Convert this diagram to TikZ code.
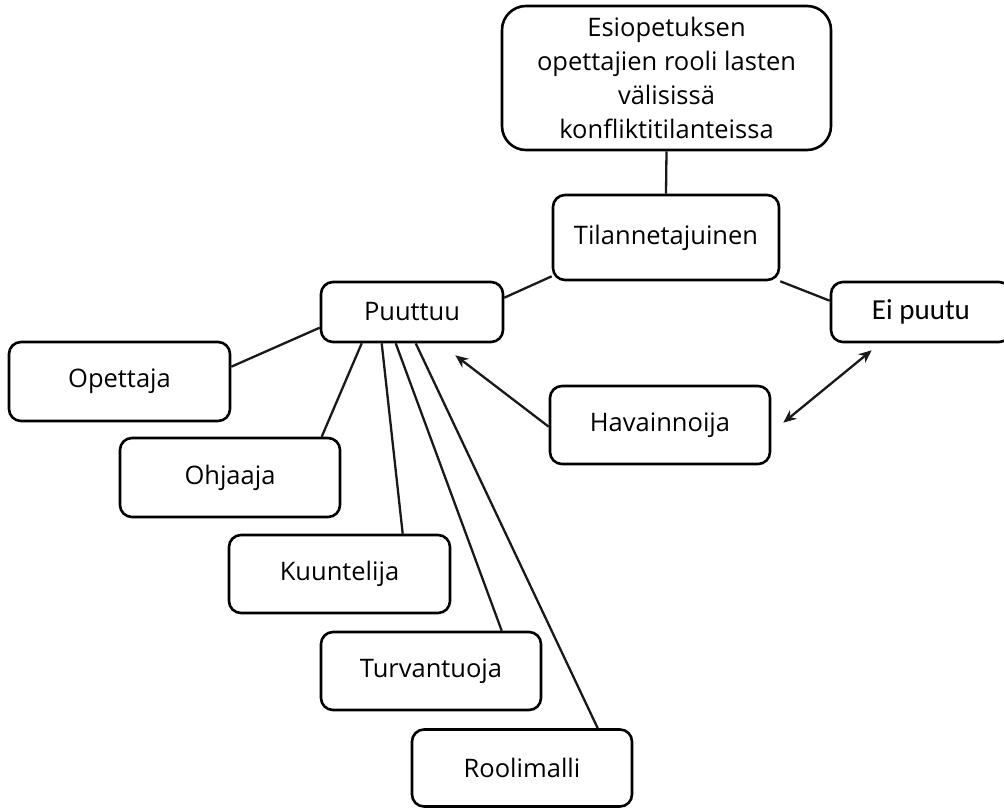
\documentclass[tikz,border=0pt]{standalone}
\usepackage{fontspec}
\setmainfont{Open Sans}
\newfontfamily\calfont{Carlito}
\usetikzlibrary{calc,arrows.meta}
\begin{document}
\begin{tikzpicture}[x=1pt,y=-1pt,
  box/.style={draw=black,line width=2.6pt,rounded corners=12pt,fill=white,align=center,inner sep=0pt,
    font=\fontsize{25.5}{34}\selectfont},
  link/.style={line width=2.3pt,draw=black!90},
  tip/.style={line width=2.3pt,draw=black!90,-{Stealth[length=13pt,width=11pt]}},
  tips/.style={line width=2.3pt,draw=black!90,{Stealth[length=13pt,width=11pt]}-{Stealth[length=13pt,width=11pt]}}]
\useasboundingbox (0,0) rectangle (1004,807);
\node[box,rounded corners=24pt,minimum width=329pt,minimum height=144pt] (top) at (666.5,78) {Esiopetuksen\\opettajien rooli lasten\\välisissä\\konfliktitilanteissa};
\node[box,minimum width=226pt,minimum height=85pt] (til) at (666,237.5) {Tilannetajuinen};
\node[box,minimum width=182pt,minimum height=60pt] (puu) at (412,312) {Puuttuu};
\node[box,minimum width=180pt,minimum height=60pt,font=\calfont\fontsize{29}{34}\selectfont] (ei) at (921,312) {Ei puutu};
\node[box,minimum width=221pt,minimum height=79pt] (ope) at (119.5,381.5) {Opettaja};
\node[box,minimum width=220pt,minimum height=79pt] (ohj) at (230,477.5) {Ohjaaja};
\node[box,minimum width=221pt,minimum height=78pt] (kuu) at (339.5,574) {Kuuntelija};
\node[box,minimum width=220pt,minimum height=78pt] (tur) at (431,671) {Turvantuoja};
\node[box,minimum width=220pt,minimum height=77pt] (roo) at (522,768) {Roolimalli};
\node[box,minimum width=220pt,minimum height=78pt] (hav) at (660,425) {Havainnoija};
\draw[link] (top.south) -- (til.north);
\draw[link] ($(til.south west)+(0,-5)$) -- ($(puu.north east)+(0,17)$);
\draw[link] (til.south east) -- ($(ei.north west)+(0,20)$);
\draw[link] ($(puu.north west)+(0,47)$) -- ($(ope.north east)+(0,26)$);
\draw[link] ($(puu.south west)+(42,0)$) -- ($(ohj.north west)+(203,0)$);
\draw[link] ($(puu.south west)+(62,0)$) -- ($(kuu.north west)+(175,0)$);
\draw[link] ($(puu.south west)+(76,0)$) -- ($(tur.north west)+(182,0)$);
\draw[link] ($(puu.south west)+(96,0)$) -- ($(roo.north west)+(187,0)$);
\coordinate (a1) at ($(puu.south east)+(-49,12)$);
\coordinate (a2) at ($(hav.north east)+(12,38)$);
\coordinate (a3) at ($(ei.south west)+(42,7)$);
\draw[tip] ($(hav.north west)+(0,42)$) -- (a1);
\draw[tips] (a2) -- (a3);
\end{tikzpicture}
\end{document}
